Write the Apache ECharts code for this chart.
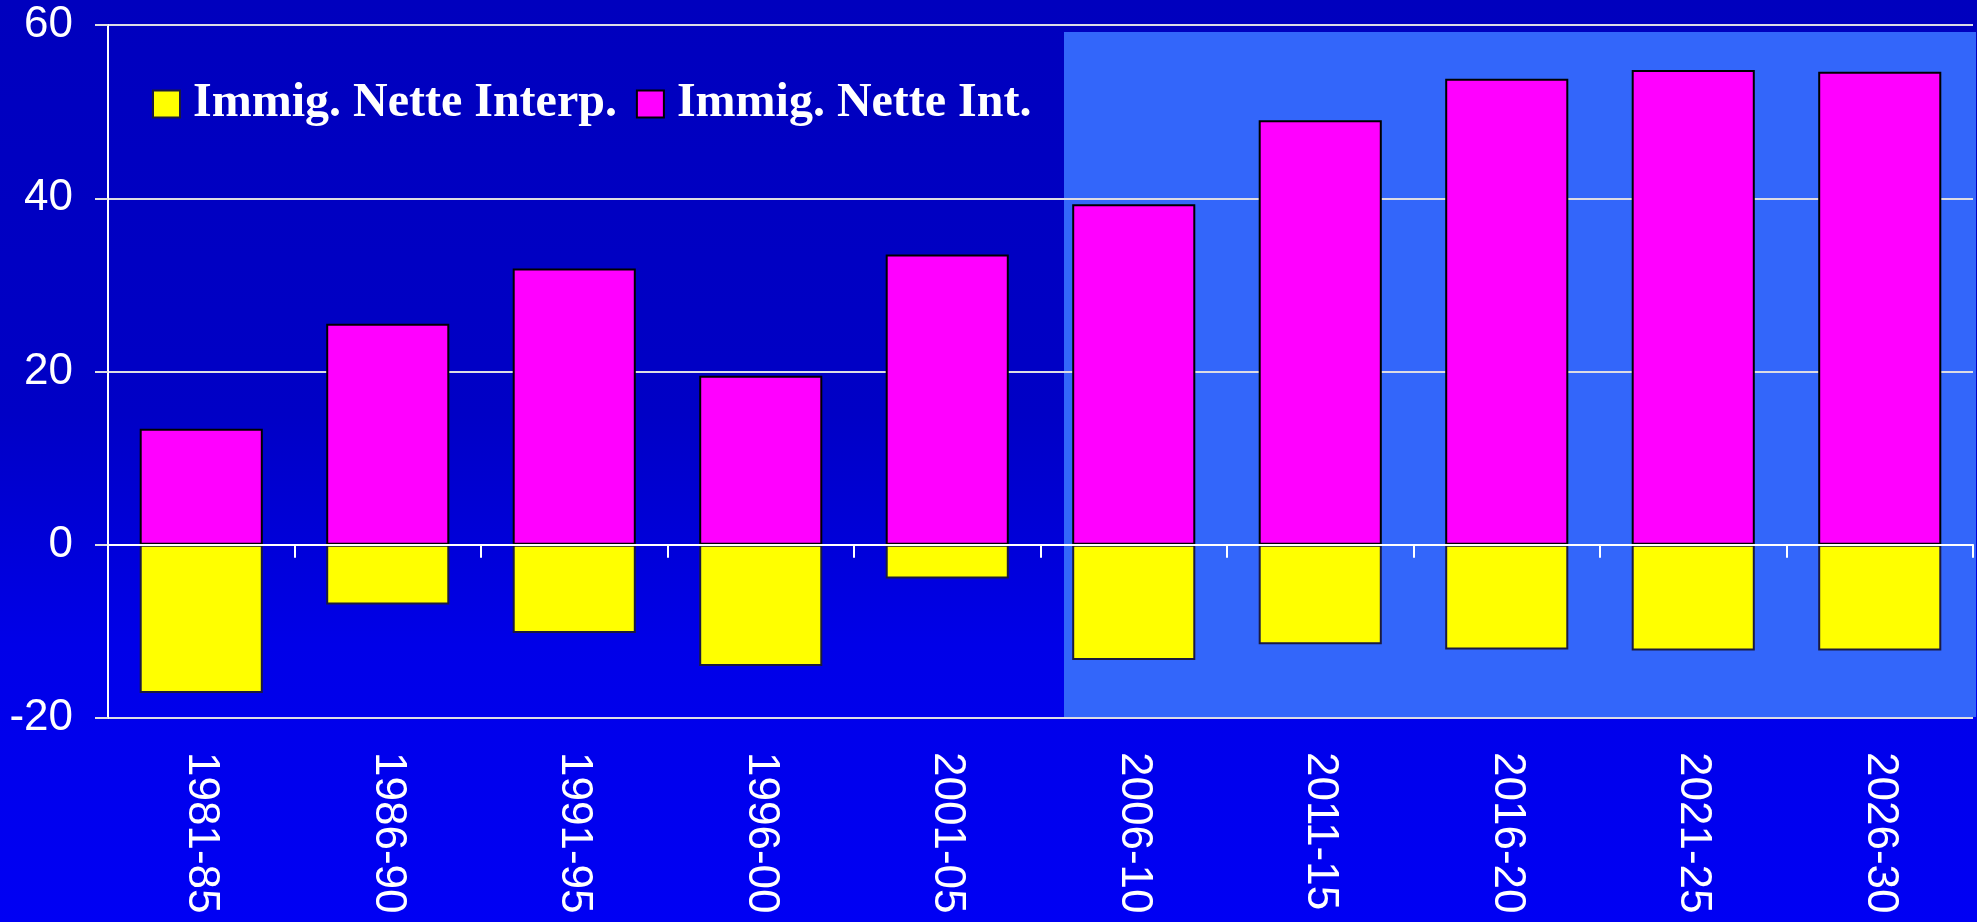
<!DOCTYPE html>
<html>
<head>
<meta charset="utf-8">
<script src="https://cdn.jsdelivr.net/npm/echarts@6/dist/echarts.min.js"></script>
<style>
html,body{margin:0;padding:0;}
#c{width:1977px;height:922px;}
</style>
</head>
<body>
<div id="c"></div>
<script>
const categories = ['1981-85','1986-90','1991-95','1996-00','2001-05','2006-10','2011-15','2016-20','2021-25','2026-30'];
const interpValues = [-17.1, -6.9, -10.2, -14.0, -3.9, -13.3, -11.5, -12.1, -12.2, -12.2];
const intValues = [13.4, 25.5, 31.9, 19.5, 33.5, 39.3, 49.0, 53.8, 54.8, 54.6];
const yTicks = {min: -20, max: 60, interval: 20};
const seriesNames = ['Immig. Nette Interp.', 'Immig. Nette Int.'];

const chart = echarts.init(document.getElementById('c'));
const option = {
  animation: false,
  backgroundColor: {
    type: 'linear', x: 0, y: 0, x2: 0, y2: 1,
    colorStops: [
      {offset: 0, color: '#0000BE'},
      {offset: 0.45, color: '#0000C6'},
      {offset: 0.7, color: '#0000E8'},
      {offset: 1, color: '#0000F4'}
    ]
  },
  graphic: [{
    type: 'rect', z: -1,
    shape: {x: 1064, y: 32, width: 912, height: 685},
    style: {fill: '#3366FA'}
  }],
  grid: {left: 108, right: 4, top: 25, bottom: 204, containLabel: false},
  legend: {
    left: 152, top: 80, padding: 0,
    itemWidth: 27, itemHeight: 27, itemGap: 19,
    icon: 'rect',
    textStyle: {color: '#FFFFFF', fontFamily: 'Liberation Serif', fontWeight: 'bold', fontSize: 48, padding: [0,0,0,8]},
    data: seriesNames
  },
  xAxis: [{
    type: 'category', data: categories, position: 'bottom',
    axisLine: {show: false, onZero: false},
    axisTick: {show: false},
    axisLabel: {color: '#FFFFFF', fontFamily: 'Liberation Sans', fontSize: 44, rotate: -90, margin: 34, interval: 0}
  }, {
    type: 'category', data: categories, position: 'bottom', z: 10,
    axisLine: {show: true, onZero: true, lineStyle: {color: '#FFFFFF', width: 2}},
    axisTick: {show: true, length: 13, lineStyle: {color: '#FFFFFF', width: 2}},
    axisLabel: {show: false}
  }],
  yAxis: {
    type: 'value', min: yTicks.min, max: yTicks.max, interval: yTicks.interval,
    axisLine: {show: true, lineStyle: {color: '#FFFFFF', width: 2}},
    axisTick: {show: true, length: 13, lineStyle: {color: '#E0E0E0', width: 2}},
    axisLabel: {color: '#FFFFFF', fontFamily: 'Liberation Sans', fontSize: 44, margin: 35},
    splitLine: {show: true, lineStyle: {color: '#DCDCE4', width: 2}}
  },
  series: [{
    name: seriesNames[0], type: 'bar', stack: 'a', xAxisIndex: 0,
    barWidth: '66%', data: interpValues,
    itemStyle: {color: '#FFFF00', borderColor: '#1A1A40', borderWidth: 2}
  }, {
    name: seriesNames[1], type: 'bar', stack: 'a', xAxisIndex: 0,
    barWidth: '66%', data: intValues,
    itemStyle: {color: '#FF00FF', borderColor: '#000000', borderWidth: 2}
  }]
};
chart.setOption(option);
</script>
</body>
</html>
